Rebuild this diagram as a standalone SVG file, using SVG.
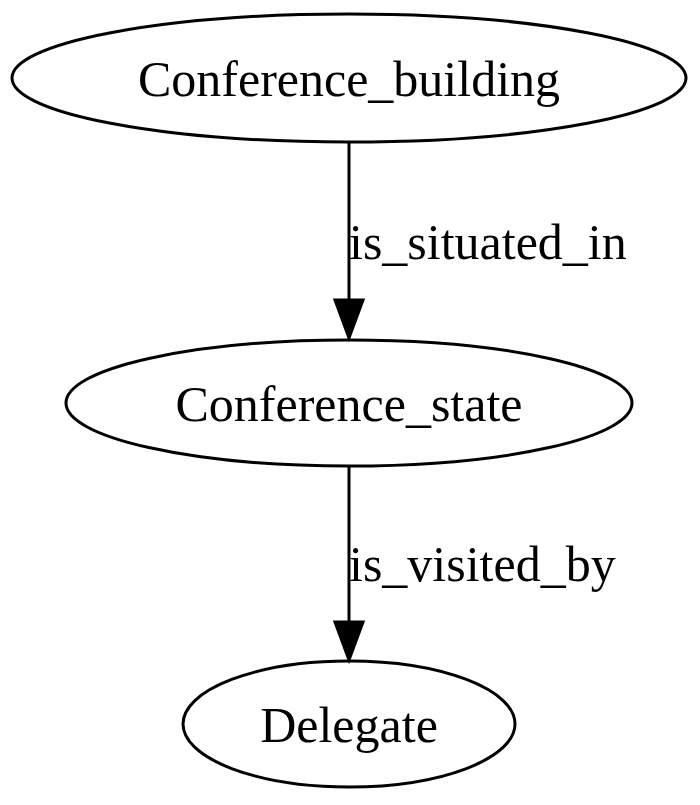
<svg xmlns="http://www.w3.org/2000/svg" width="700" height="805" viewBox="0 0 700 805">
<style>
.node ellipse{fill:none;stroke:#000;stroke-width:3}
text{font-family:"Liberation Serif","Times New Roman",serif;font-size:50px;fill:#000}
.node text{text-anchor:middle}
.edge line{stroke:#000;stroke-width:3}
.edge polygon{fill:#000;stroke:#000;stroke-width:3}
</style>
<rect width="700" height="805" fill="#fff"/>
<g id="edges">
<g class="edge" id="e1">
<line x1="349" y1="142" x2="349" y2="300"/>
<polygon points="335,300 363,300 349,338"/>
<text x="349" y="259">is_situated_in</text>
</g>
<g class="edge" id="e2">
<line x1="349" y1="466" x2="349" y2="622"/>
<polygon points="335,622 363,622 349,660"/>
<text x="349" y="581">is_visited_by</text>
</g>
</g>
<g class="node" id="Conference_building">
<ellipse cx="349" cy="78" rx="337" ry="64"/>
<text x="349" y="96">Conference_building</text>
</g>
<g class="node" id="Conference_state">
<ellipse cx="349" cy="403" rx="283" ry="63"/>
<text x="349" y="421">Conference_state</text>
</g>
<g class="node" id="Delegate">
<ellipse cx="349" cy="724" rx="166" ry="63"/>
<text x="349" y="742">Delegate</text>
</g>
</svg>
